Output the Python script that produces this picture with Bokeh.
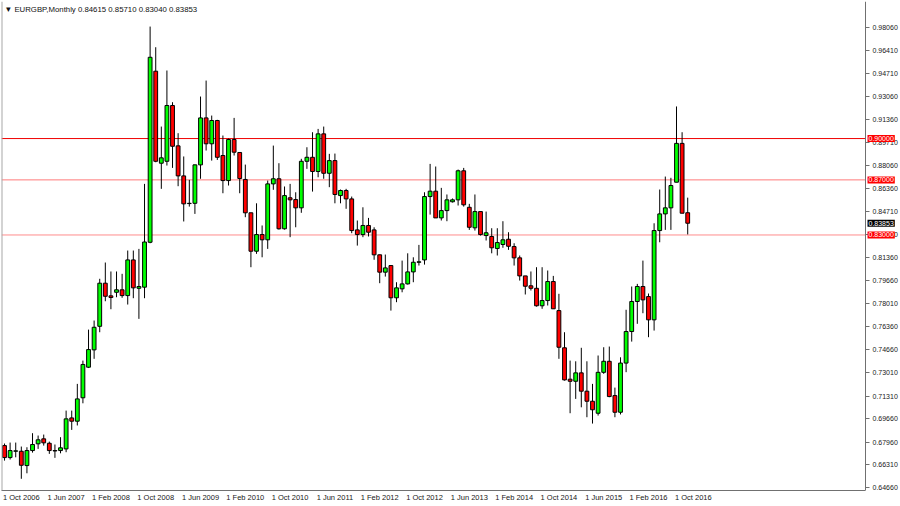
from bokeh.plotting import figure
from bokeh.models import (Range1d, FixedTicker, NumeralTickFormatter, Span, Label,
                          ColumnDataSource)
from bokeh.embed import file_html
from bokeh.resources import INLINE

symbol = "EURGBP,Monthly"

opens = [0.6771, 0.6684, 0.6730, 0.6730, 0.6626, 0.6735, 0.6784, 0.6820, 0.6788, 0.6735,
         0.6735, 0.6747, 0.6972, 0.6948, 0.7118, 0.7340, 0.7466, 0.7637, 0.7950, 0.7858,
         0.7884, 0.7902, 0.7860, 0.8119, 0.7913, 0.7921, 0.8247, 0.9489, 0.8821, 0.8835,
         0.9240, 0.8947, 0.8729, 0.8530, 0.8530, 0.8809, 0.9150, 0.8962, 0.9131, 0.8877,
         0.8695, 0.8993, 0.8899, 0.8703, 0.8461, 0.8182, 0.8303, 0.8265, 0.8671, 0.8708,
         0.8345, 0.8570, 0.8557, 0.8497, 0.8835, 0.8864, 0.8761, 0.9034, 0.8748, 0.8840,
         0.8586, 0.8623, 0.8562, 0.8337, 0.8303, 0.8369, 0.8337, 0.8156, 0.8030, 0.8078,
         0.7844, 0.7909, 0.7945, 0.8032, 0.8102, 0.8119, 0.8579, 0.8618, 0.8424, 0.8477,
         0.8541, 0.8555, 0.8766, 0.8501, 0.8352, 0.8470, 0.8296, 0.8289, 0.8202, 0.8231,
         0.8269, 0.8216, 0.8134, 0.8003, 0.7931, 0.7913, 0.7786, 0.7824, 0.7962, 0.7751,
         0.7481, 0.7253, 0.7238, 0.7299, 0.7166, 0.7093, 0.7006, 0.7303, 0.7383, 0.7134,
         0.7013, 0.7370, 0.7599, 0.7817, 0.7926, 0.7853, 0.7684, 0.8332, 0.8453, 0.8497,
         0.8683, 0.8965, 0.84615]

highs = [0.6786, 0.6793, 0.6793, 0.6764, 0.6759, 0.6861, 0.6844, 0.6851, 0.6800, 0.6779,
         0.6832, 0.7025, 0.7025, 0.7219, 0.7388, 0.7613, 0.7679, 0.7982, 0.8100, 0.8035,
         0.8035, 0.8018, 0.8187, 0.8187, 0.8199, 0.8671, 0.9813, 0.9663, 0.9087, 0.9494,
         0.9264, 0.9039, 0.8870, 0.8700, 0.8811, 0.9305, 0.9421, 0.9167, 0.9136, 0.9022,
         0.9000, 0.9150, 0.8899, 0.8811, 0.8461, 0.8530, 0.8369, 0.8695, 0.8949, 0.8821,
         0.8652, 0.8671, 0.8610, 0.8853, 0.8937, 0.9046, 0.9070, 0.9087, 0.8889, 0.8891,
         0.8630, 0.8635, 0.8579, 0.8405, 0.8501, 0.8424, 0.8356, 0.8158, 0.8158, 0.8078,
         0.7957, 0.8114, 0.8167, 0.8138, 0.8228, 0.8610, 0.8816, 0.8797, 0.8642, 0.8594,
         0.8565, 0.8775, 0.8787, 0.8526, 0.8594, 0.8470, 0.8470, 0.8349, 0.8349, 0.8400,
         0.8320, 0.8240, 0.8151, 0.8003, 0.8035, 0.8066, 0.8066, 0.8042, 0.8003, 0.7873,
         0.7594, 0.7388, 0.7383, 0.7481, 0.7383, 0.7219, 0.7425, 0.7485, 0.7490, 0.7192,
         0.7412, 0.7757, 0.7926, 0.7945, 0.8114, 0.7875, 0.8385, 0.8630, 0.8724, 0.8715,
         0.9233, 0.9046, 0.85710]

lows = [0.6662, 0.6670, 0.6686, 0.6530, 0.6570, 0.6720, 0.6747, 0.6771, 0.6711, 0.6682,
        0.6715, 0.6723, 0.6885, 0.6917, 0.7078, 0.7334, 0.7401, 0.7594, 0.7819, 0.7761,
        0.7848, 0.7844, 0.7795, 0.7841, 0.7691, 0.7841, 0.8240, 0.8828, 0.8635, 0.8804,
        0.8787, 0.8654, 0.8398, 0.8506, 0.8453, 0.8708, 0.8913, 0.8840, 0.8845, 0.8603,
        0.8659, 0.8877, 0.8603, 0.8429, 0.8066, 0.8163, 0.8138, 0.8199, 0.8628, 0.8339,
        0.8339, 0.8284, 0.8356, 0.8461, 0.8780, 0.8615, 0.8719, 0.8708, 0.8647, 0.8530,
        0.8530, 0.8490, 0.8313, 0.8223, 0.8284, 0.8289, 0.8120, 0.7950, 0.7998, 0.7751,
        0.7812, 0.7884, 0.7940, 0.7957, 0.8078, 0.8085, 0.8448, 0.8424, 0.8405, 0.8400,
        0.8536, 0.8514, 0.8506, 0.8337, 0.8332, 0.8296, 0.8260, 0.8167, 0.8151, 0.8207,
        0.8192, 0.8078, 0.7969, 0.7868, 0.7897, 0.7780, 0.7764, 0.7788, 0.7764, 0.7401,
        0.7243, 0.7006, 0.7110, 0.7049, 0.6977, 0.6931, 0.6989, 0.7292, 0.7122, 0.6977,
        0.6997, 0.7304, 0.7526, 0.7655, 0.7732, 0.7558, 0.7606, 0.8247, 0.8337, 0.8337,
        0.8683, 0.8458, 0.83040]

closes = [0.6684, 0.6735, 0.6733, 0.6628, 0.6735, 0.6779, 0.6813, 0.6791, 0.6735, 0.6732,
          0.6755, 0.6965, 0.6948, 0.7110, 0.7360, 0.7468, 0.7630, 0.7950, 0.7855, 0.7846,
          0.7902, 0.7860, 0.8119, 0.7916, 0.7926, 0.8249, 0.9590, 0.8835, 0.8860, 0.9240,
          0.8944, 0.8729, 0.8526, 0.8528, 0.8809, 0.9150, 0.8962, 0.9131, 0.8864, 0.8695,
          0.8993, 0.8901, 0.8710, 0.8461, 0.8182, 0.8303, 0.8265, 0.8671, 0.8708, 0.8345,
          0.8586, 0.8555, 0.8497, 0.8835, 0.8864, 0.8761, 0.9034, 0.8748, 0.8840, 0.8594,
          0.8623, 0.8562, 0.8332, 0.8303, 0.8369, 0.8320, 0.8156, 0.8030, 0.8061, 0.7844,
          0.7916, 0.7945, 0.8032, 0.8102, 0.8105, 0.8579, 0.8618, 0.8424, 0.8477, 0.8555,
          0.8555, 0.8766, 0.8519, 0.8356, 0.8470, 0.8303, 0.8316, 0.8207, 0.8245, 0.8265,
          0.8218, 0.8134, 0.8003, 0.7928, 0.7913, 0.7786, 0.7824, 0.7962, 0.7764, 0.7485,
          0.7248, 0.7238, 0.7299, 0.7166, 0.7093, 0.7031, 0.7303, 0.7383, 0.7127, 0.7013,
          0.7370, 0.7599, 0.7817, 0.7926, 0.7829, 0.7684, 0.8332, 0.8453, 0.8497, 0.8659,
          0.8965, 0.8458, 0.83853]

# x-axis: candle index of each date label, and the label text
date_tick_index = [0, 8, 16, 24, 32, 40, 48, 56, 64, 72, 80, 88, 96, 104, 112, 120]
date_tick_labels = ["1 Oct 2006", "1 Jun 2007", "1 Feb 2008", "1 Oct 2008", "1 Jun 2009",
                    "1 Feb 2010", "1 Oct 2010", "1 Jun 2011", "1 Feb 2012", "1 Oct 2012",
                    "1 Jun 2013", "1 Feb 2014", "1 Oct 2014", "1 Jun 2015", "1 Feb 2016",
                    "1 Oct 2016"]

price_ticks = [0.98060, 0.96410, 0.94710, 0.93060, 0.91360, 0.89710, 0.88060, 0.86360,
               0.84710, 0.83010, 0.81360, 0.79660, 0.78010, 0.76360, 0.74660, 0.73010,
               0.71310, 0.69660, 0.67960, 0.66310, 0.64660]

levels = [0.90, 0.87, 0.83]
level_colors = ["#F00000", "#FF7A7A", "#FF8C8C"]

BULL = "#00FF00"
BEAR = "#FF0000"

n = len(opens)
xs = list(range(n))
src = ColumnDataSource(dict(
    x=xs, open=opens, high=highs, low=lows, close=closes,
    top=[max(o, c) for o, c in zip(opens, closes)],
    bottom=[min(o, c) for o, c in zip(opens, closes)],
    color=[BULL if c >= o else BEAR for o, c in zip(opens, closes)],
))

X0, XA, X1 = -0.54, 153.75, 160.0   # left edge, price-scale line, right edge
Y0, Y1 = 0.6445, 0.9995
W, H = 900, 506

p = figure(width=W, height=H, x_range=Range1d(X0, X1), y_range=Range1d(Y0, Y1),
           y_axis_location="right", toolbar_location=None, output_backend="svg",
           min_border_left=1, min_border_top=1, min_border_right=0, min_border_bottom=16)

p.background_fill_color = "white"
p.border_fill_color = "white"
p.outline_line_color = None
p.grid.visible = False

# window border on the left
p.add_layout(Span(location=X0, dimension="height", line_color="#A8A8A8", line_width=2))

# horizontal levels, ending at the price scale
p.segment(x0=[X0] * len(levels), y0=levels, x1=[XA] * len(levels), y1=levels,
          line_color=level_colors, line_width=1)

# candles
p.segment(x0="x", y0="low", x1="x", y1="high", source=src, line_color="black", line_width=1)
p.vbar(x="x", top="top", bottom="bottom", width=0.68, source=src,
       fill_color="color", line_color="black", line_width=1)

# price scale: drawn at XA, labels to its right
ya = p.yaxis[0]
ya.fixed_location = XA
ya.ticker = FixedTicker(ticks=price_ticks)
ya.formatter = NumeralTickFormatter(format="0.00000")
ya.major_tick_out = 4
ya.major_tick_in = 0
ya.minor_tick_out = 0
ya.minor_tick_in = 0
ya.major_label_standoff = 3
ya.axis_line_color = "#707070"
ya.major_tick_line_color = "#707070"
ya.major_label_text_font = "Liberation Sans"
ya.major_label_text_font_size = "7px"
ya.major_label_text_color = "#202020"

# time scale: labels start at the month they name
xa = p.xaxis[0]
shift = 3
xa.bounds = (X0, XA)
xa.ticker = FixedTicker(ticks=[i + shift for i in date_tick_index])
xa.major_label_overrides = {i + shift: t for i, t in zip(date_tick_index, date_tick_labels)}
xa.major_tick_out = 0
xa.major_tick_in = 0
xa.minor_tick_out = 0
xa.minor_tick_in = 0
xa.major_label_standoff = 2
xa.axis_line_color = "#707070"
xa.major_label_text_font = "Liberation Sans"
xa.major_label_text_font_size = "7.5px"
xa.major_label_text_color = "#202020"

# price boxes over the scale
box_common = dict(text_color="white", text_font="Liberation Sans", text_font_size="7px",
                  text_baseline="middle", text_align="left", padding=1, x_offset=2)
for lv in levels:
    p.add_layout(Label(x=XA, y=lv, text=f"{lv:.5f}", background_fill_color="#FF0000",
                       level="overlay", **box_common))
p.add_layout(Label(x=XA, y=closes[-1], text=f"{closes[-1]:.5f}",
                   background_fill_color="#000000", level="overlay", **box_common))

header = (f"\u25BC  {symbol}  {opens[-1]:.5f} {highs[-1]:.5f} "
          f"{lows[-1]:.5f} {closes[-1]:.5f}")
p.add_layout(Label(x=X0, y=Y1, text=header, text_color="#101010",
                   text_font="Liberation Sans", text_font_size="7.8px",
                   text_baseline="top", text_align="left", x_offset=3, y_offset=-3))

open("out.html", "w").write(file_html(p, INLINE))
